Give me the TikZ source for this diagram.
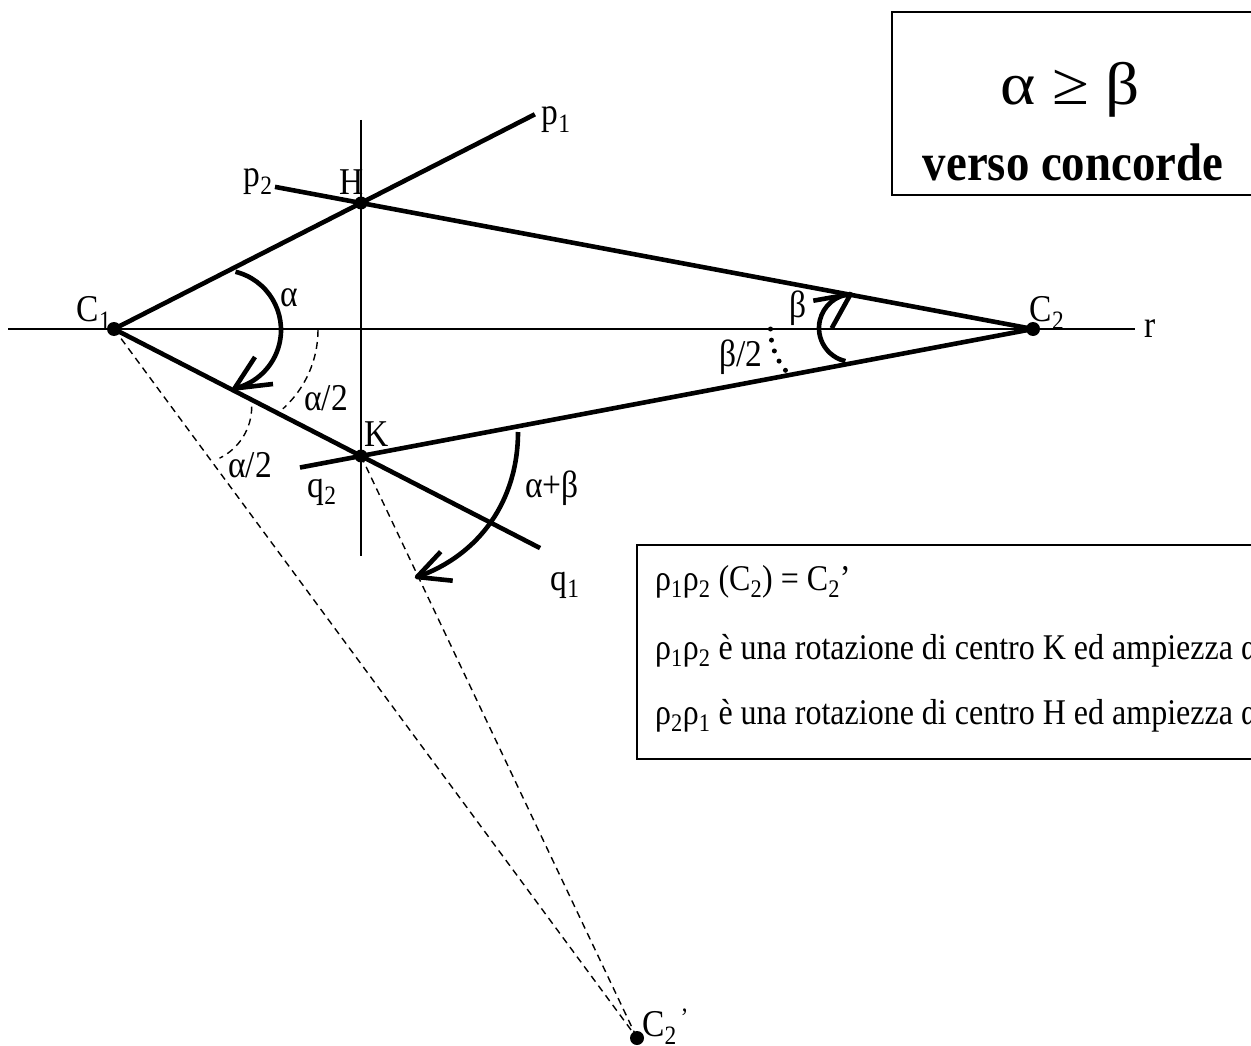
\documentclass[tikz,border=0pt]{standalone}
\usepackage{fontspec}
\setmainfont{Liberation Serif}
\usetikzlibrary{calc}
\newcommand\vst[1]{\scalebox{1}[1.13]{#1}}
\newcommand\sbs[1]{\textsubscript{#1}}
\begin{document}
\begin{tikzpicture}[x=1pt,y=-1pt,
  thickln/.style={line width=4.6pt},
  thinln/.style={line width=1.8pt},
  dashln/.style={line width=1.4pt, dash pattern=on 7pt off 5pt},
  ptdot/.style={circle, fill=black, inner sep=0pt, minimum size=#1},
  lbl/.style={font=\fontsize{33.5}{33.5}\selectfont, inner sep=0pt},
  txt/.style={font=\fontsize{32}{32}\selectfont, inner sep=0pt, anchor=west},
  frame/.style={line width=1.6pt}
]
\useasboundingbox (0,0) rectangle (1251,1046);
\clip (0,0) rectangle (1251,1046);

% main points
\coordinate (C1) at (114,329);
\coordinate (C2) at (1033,329);
\coordinate (H) at (361,203);
\coordinate (K) at (361,456);
\coordinate (C2p) at (637,1038);
\coordinate (rL) at (8,329);
\coordinate (rR) at (1135,329);
\coordinate (vT) at (361,120);
\coordinate (vB) at (361,556);
\coordinate (p1e) at ($(C1)!1.704!(H)$);
\coordinate (q1e) at ($(C1)!1.725!(K)$);
\coordinate (p2e) at ($(C2)!1.128!(H)$);
\coordinate (q2e) at ($(C2)!1.0908!(K)$);

% thin lines
\draw[thinln] (rL) -- (rR);
\draw[thinln] (vT) -- (vB);
\draw[dashln] (C1) -- (C2p);
\draw[dashln] (K) -- (C2p);

% thick lines
\draw[thickln] (C1) -- (p1e);
\draw[thickln] (C1) -- (q1e);
\draw[thickln] (C2) -- (p2e);
\draw[thickln] (C2) -- (q2e);

% alpha arc with arrow
\draw[thickln] (221,330) ++(-76:60) arc[start angle=-76, end angle=77, radius=60] coordinate (atip);
\coordinate (aL1) at (255,357);
\coordinate (aL2) at (273,384);
\draw[thickln, line join=round] (aL1) -- (atip) -- (aL2);

% alpha/2 dashed arcs
\draw[dashln] (212,330) ++(0:106) arc[start angle=0, end angle=48, radius=106];
\draw[dashln] (194.4,406.7) ++(0:57.3) arc[start angle=0, end angle=64, radius=57.3];

% alpha+beta arc
\coordinate (abS) at (518,432);
\coordinate (abT) at (417,577);
\coordinate (abL1) at (440.7,551.7);
\coordinate (abL2) at (452.7,580.7);
\draw[thickln] (abS) .. controls (518,500) and (480,555) .. (abT);
\draw[thickln, line join=round] (abL1) -- (abT) -- (abL2);

% beta arc
\draw[thickln] (853,328) ++(103:34) arc[start angle=103, end angle=266, radius=34] coordinate (btip);
\coordinate (bL1) at (813.3,300.7);
\coordinate (bL2) at (831.7,328.3);
\draw[thickln, line join=round] (bL1) -- (btip) -- (bL2);

% beta/2 dotted arc
\draw[line width=5pt, line cap=round, dash pattern=on 0pt off 11.2pt] (835,329) ++(180:64.5) arc[start angle=180, end angle=140, radius=64.5];

% dots
\node[ptdot=14pt] (dC1) at (C1) {};
\node[ptdot=14pt] (dC2) at (C2) {};
\node[ptdot=13pt] (dH) at (H) {};
\node[ptdot=13pt] (dK) at (K) {};
\node[ptdot=14pt] (dC2p) at (C2p) {};

% labels
\node[lbl] (lC1) at (94,313) {\vst{C\sbs{1}}};
\node[lbl] (lC2) at (1047,313) {\vst{C\sbs{2}}};
\node[lbl] (lH) at (352,182) {\vst{H}};
\node[lbl] (lK) at (377,434) {\vst{K}};
\node[lbl] (lp1) at (556,120) {\vst{p\sbs{1}}};
\node[lbl] (lp2) at (258,182) {\vst{p\sbs{2}}};
\node[lbl] (lq1) at (565,585) {\vst{q\sbs{1}}};
\node[lbl] (lq2) at (322,492) {\vst{q\sbs{2}}};
\node[lbl] (lr) at (1150,329) {\vst{r}};
\node[lbl] (la) at (289,298) {\vst{α}};
\node[lbl] (la2u) at (326,398) {\vst{α/2}};
\node[lbl] (la2l) at (250,465) {\vst{α/2}};
\node[lbl] (lab) at (552,488) {\vst{α+β}};
\node[lbl] (lb) at (798,308) {\vst{β}};
\node[lbl] (lb2) at (741,357) {\vst{β/2}};
\node[lbl, anchor=west] (lC2p) at (642,1027) {\vst{C\sbs{2}\textsuperscript{\,'}}};

% top-right box
\draw[frame] (892,12) rectangle (1262,195);
\node[inner sep=0pt, font=\fontsize{60}{60}\selectfont] (hdr1) at (1070,90) {\scalebox{1.12}[1.0]{α ≥ β}};
\node[inner sep=0pt, font=\fontsize{46.8}{46.8}\bfseries\selectfont] (hdr2) at (1073,162) {\vst{verso concorde}};

% text box
\draw[frame] (637,545) rectangle (1262,759);
\node[txt] (t1) at (655,582) {\vst{ρ\sbs{1}ρ\sbs{2} (C\sbs{2}) = C\sbs{2}’}};
\node[txt] (t2) at (655,651) {\vst{ρ\sbs{1}ρ\sbs{2} è una rotazione di centro K ed ampiezza α+β}};
\node[txt] (t3) at (655,716) {\vst{ρ\sbs{2}ρ\sbs{1} è una rotazione di centro H ed ampiezza α+β}};
\end{tikzpicture}
\end{document}
